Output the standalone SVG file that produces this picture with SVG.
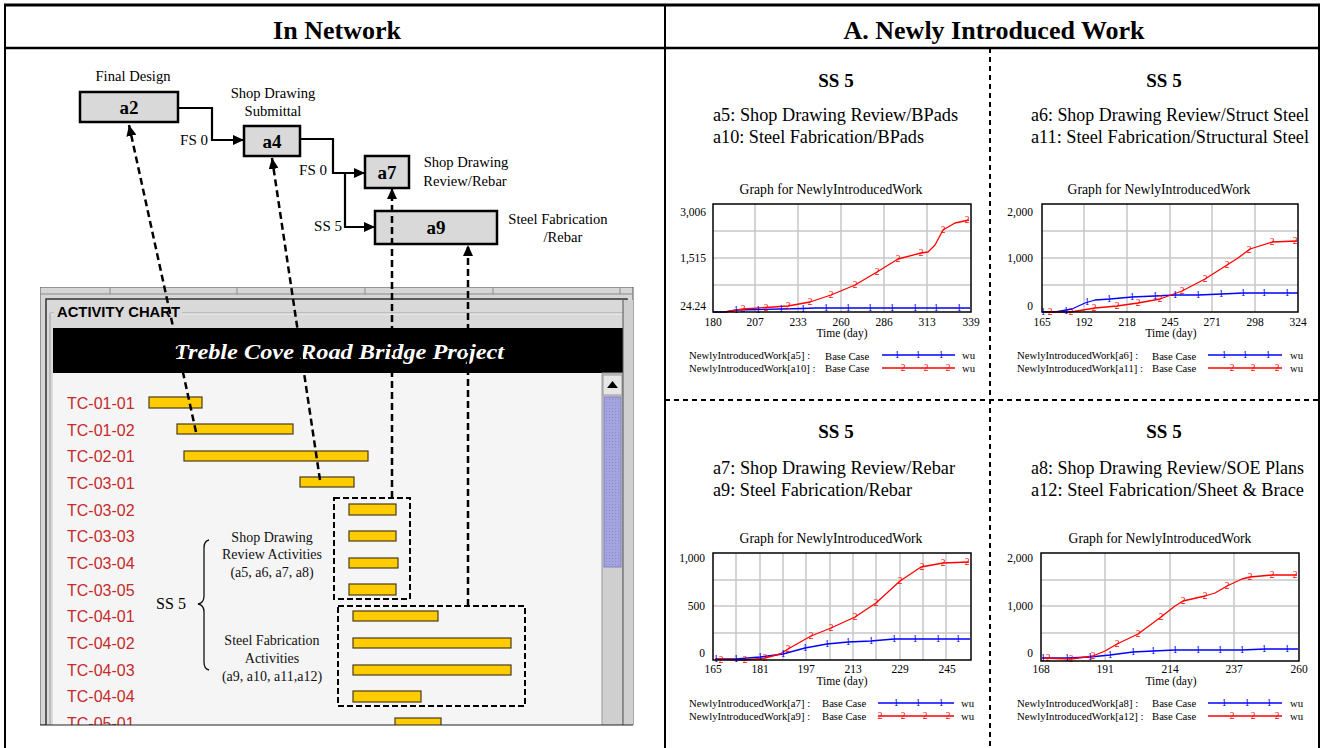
<svg xmlns="http://www.w3.org/2000/svg" xmlns:xlink="http://www.w3.org/1999/xlink" width="1322" height="748" viewBox="0 0 1322 748">
<style>
.serif{font-family:"Liberation Serif","Times New Roman",serif;}
.sans{font-family:"Liberation Sans",Arial,sans-serif;}
.hdr{font-family:"Liberation Serif",serif;font-size:26px;font-weight:bold;text-anchor:middle;}
.ss{font-family:"Liberation Serif",serif;font-size:19px;font-weight:bold;text-anchor:middle;}
.desc{font-family:"Liberation Serif",serif;font-size:18px;}
.lbl{font-family:"Liberation Serif",serif;font-size:14.6px;text-anchor:middle;}
.lag{font-family:"Liberation Serif",serif;font-size:15px;text-anchor:end;}
.node rect{fill:#d9d9d9;stroke:#000;stroke-width:2.5;}
.node .id{font-family:"Liberation Serif",serif;font-size:19px;font-weight:bold;text-anchor:middle;}
.conn{fill:none;stroke:#000;stroke-width:2.2;}
.dash{fill:none;stroke:#000;stroke-width:2.5;stroke-dasharray:7 4;}
.dbox{fill:none;stroke:#000;stroke-width:2;stroke-dasharray:6 3;}
.sep{fill:none;stroke:#000;stroke-width:2;stroke-dasharray:5 4;}
.tbl{fill:none;stroke:#000;}
.row{font-family:"Liberation Sans",Arial,sans-serif;font-size:16px;fill:#c62a2a;}
.bar{fill:#ffcc00;stroke:#4a3b1c;stroke-width:1.2;}
.ann{font-family:"Liberation Serif",serif;font-size:14px;text-anchor:middle;fill:#111;}
.gt{font-family:"Liberation Serif",serif;font-size:13.7px;text-anchor:middle;}
.ax{font-family:"Liberation Serif",serif;font-size:11.5px;text-anchor:middle;}
.ay{font-family:"Liberation Serif",serif;font-size:11.5px;text-anchor:end;}
.lg{font-family:"Liberation Serif",serif;font-size:10.7px;}
.grid{fill:none;stroke:#c8c8c8;stroke-width:1.5;}
.frame{fill:none;stroke:#000;stroke-width:1.5;}
.blue{fill:none;stroke:#0000ff;stroke-width:1.3;stroke-linejoin:round;}
.red{fill:none;stroke:#ff0000;stroke-width:1.3;stroke-linejoin:round;}
.mk{font-family:"Liberation Serif",serif;font-size:9.5px;text-anchor:middle;}
</style>
<defs>
<marker id="arr" viewBox="0 0 11 10" refX="11" refY="5" markerWidth="11" markerHeight="10" markerUnits="userSpaceOnUse" orient="auto"><path d="M0,0 L11,5 L0,10 z" fill="#000"/></marker>
<text id="k1" class="mk" fill="#0000ff" y="3">1</text>
<text id="k2" class="mk" fill="#ff0000" y="3">2</text>
<clipPath id="chartclip"><rect x="40" y="287" width="594" height="438"/></clipPath>
<pattern id="dots" width="3" height="3" patternUnits="userSpaceOnUse"><rect width="3" height="3" fill="#a4a4e0"/><rect width="1" height="1" fill="#8c8cc8"/></pattern>
</defs>

<rect width="1322" height="748" fill="#fff"/>

<!-- table -->
<g id="table">
<path class="tbl" stroke-width="3" d="M4,5 H1320"/>
<path class="tbl" stroke-width="2.5" d="M4,48 H1320"/>
<path class="tbl" stroke-width="2" d="M5,5 V748 M665,5 V748 M1319,5 V748"/>
<text class="hdr" x="337" y="39">In Network</text>
<text class="hdr" x="994" y="39">A. Newly Introduced Work</text>
</g>

<!-- activity chart screenshot -->
<g id="activity-chart" clip-path="url(#chartclip)">
<rect x="40" y="287" width="593" height="438" fill="#d6d6d6" stroke="#555" stroke-width="1"/>
<path d="M41,294 H632" stroke="#8a8a8a" stroke-width="1"/>
<path d="M110,287 V294 M237,287 V294 M365,287 V294 M493,287 V294 M620,287 V294" stroke="#8a8a8a" stroke-width="1"/>
<rect x="46" y="299" width="581" height="430" fill="#d9d9d9" stroke="#333" stroke-width="1.5"/>
<path d="M50,313 H624" stroke="#a0a0a0" stroke-width="1"/>
<path d="M50,314 H624" stroke="#f2f2f2" stroke-width="1"/>
<path d="M50,313 V729" stroke="#a0a0a0" stroke-width="1"/>
<rect x="54" y="303" width="128" height="18" fill="#d9d9d9"/>
<text class="sans" x="57" y="317" font-size="14" font-weight="bold" textLength="123" lengthAdjust="spacingAndGlyphs">ACTIVITY CHART</text>
<rect x="53" y="328" width="570" height="45" fill="#000"/>
<text x="339" y="359" fill="#fff" font-family="Liberation Serif,serif" font-size="21" font-weight="bold" font-style="italic" text-anchor="middle" textLength="330" lengthAdjust="spacingAndGlyphs">Treble Cove Road Bridge Project</text>
<rect x="53" y="373" width="549" height="356" fill="#f5f5f5"/>
<rect x="602" y="373" width="21" height="356" fill="#cfcfcf" stroke="#9a9a9a" stroke-width="1"/>
<rect x="603" y="375" width="19" height="20" fill="#e6e6e6" stroke="#9a9a9a" stroke-width="1"/>
<path d="M607,388 L612.5,381 L618,388 z" fill="#000"/>
<rect x="604" y="397" width="17" height="170" fill="url(#dots)" stroke="#8080c0" stroke-width="1"/>
<rect x="623" y="300" width="10" height="429" fill="#cfcfcf"/>
<path d="M623,300 V729" stroke="#555" stroke-width="1"/>

<text class="row" x="67" y="409">TC-01-01</text>
<text class="row" x="67" y="436">TC-01-02</text>
<text class="row" x="67" y="462">TC-02-01</text>
<text class="row" x="67" y="489">TC-03-01</text>
<text class="row" x="67" y="516">TC-03-02</text>
<text class="row" x="67" y="542">TC-03-03</text>
<text class="row" x="67" y="569">TC-03-04</text>
<text class="row" x="67" y="596">TC-03-05</text>
<text class="row" x="67" y="622">TC-04-01</text>
<text class="row" x="67" y="649">TC-04-02</text>
<text class="row" x="67" y="676">TC-04-03</text>
<text class="row" x="67" y="702">TC-04-04</text>
<text class="row" x="67" y="729">TC-05-01</text>

<rect class="bar" x="149" y="397" width="53" height="11"/>
<rect class="bar" x="177" y="424" width="116" height="10"/>
<rect class="bar" x="184" y="451" width="184" height="10"/>
<rect class="bar" x="300" y="477" width="54" height="10"/>
<rect class="bar" x="349" y="504" width="47" height="11"/>
<rect class="bar" x="349" y="531" width="47" height="10"/>
<rect class="bar" x="349" y="558" width="49" height="10"/>
<rect class="bar" x="349" y="584" width="47" height="11"/>
<rect class="bar" x="353" y="611" width="85" height="10"/>
<rect class="bar" x="353" y="638" width="158" height="10"/>
<rect class="bar" x="353" y="665" width="158" height="10"/>
<rect class="bar" x="353" y="691" width="68" height="11"/>
<rect class="bar" x="395" y="718" width="46" height="12"/>
</g>
<path d="M40,725 H633" stroke="#222" stroke-width="1.2"/>

<!-- annotations inside chart -->
<g id="brace-annotation">
<text class="ann" x="272" y="542">Shop Drawing</text>
<text class="ann" x="272" y="559">Review Activities</text>
<text class="ann" x="272" y="577">(a5, a6, a7, a8)</text>
<text class="ann" x="272" y="645">Steel Fabrication</text>
<text class="ann" x="272" y="663">Activities</text>
<text class="ann" x="272" y="681">(a9, a10, a11,a12)</text>
<text class="serif" x="171" y="609" font-size="16" text-anchor="middle">SS 5</text>
<path d="M209,540 Q204,541 204,548 L204,596 Q204,603 198,604 Q204,605 204,612 L204,662 Q204,669 209,670" fill="none" stroke="#111" stroke-width="1.3"/>
<rect class="dbox" x="334" y="498" width="76" height="101"/>
<rect class="dbox" x="338" y="606" width="187" height="100"/>
</g>

<!-- nodes -->
<g id="node-a2" class="node">
<text class="lbl" x="133" y="81">Final Design</text>
<rect x="80" y="92" width="98" height="30"/>
<text class="id" x="129" y="114">a2</text>
</g>
<g id="node-a4" class="node">
<text class="lbl" x="273" y="98">Shop Drawing</text>
<text class="lbl" x="273" y="116">Submittal</text>
<rect x="244" y="126" width="56" height="30"/>
<text class="id" x="272" y="148">a4</text>
</g>
<g id="node-a7" class="node">
<rect x="365" y="156" width="44" height="32"/>
<text class="id" x="387" y="179">a7</text>
<text class="lbl" x="466" y="167">Shop Drawing</text>
<text class="lbl" x="465" y="186">Review/Rebar</text>
</g>
<g id="node-a9" class="node">
<rect x="375" y="211" width="122" height="33"/>
<text class="id" x="436" y="234">a9</text>
<text class="lbl" x="558" y="224">Steel Fabrication</text>
<text class="lbl" x="563" y="242">/Rebar</text>
</g>

<!-- connectors -->
<g id="connectors">
<path class="conn" d="M178,108 H212 V140 H244" marker-end="url(#arr)"/>
<path class="conn" d="M300,139 H333 V173 H365" marker-end="url(#arr)"/>
<path class="conn" d="M345,173 V227 H375" marker-end="url(#arr)"/>
<text class="lag" x="208" y="145">FS 0</text>
<text class="lag" x="327" y="175">FS 0</text>
<text class="lag" x="342" y="231">SS 5</text>
<path class="dash" d="M196,432 L129,125" marker-end="url(#arr)"/>
<path class="dash" d="M320,480 L272,158" marker-end="url(#arr)"/>
<path class="dash" d="M392,498 V188" marker-end="url(#arr)"/>
<path class="dash" d="M468,606 V245" marker-end="url(#arr)"/>
</g>

<!-- right panel separators -->
<g id="separators">
<path class="sep" d="M990,48 V748"/>
<path class="sep" d="M665,400 H1320"/>
</g>

<!-- Quadrant 1 -->
<g id="q-a5-a10">
<text class="ss" x="836" y="87">SS 5</text>
<text class="desc" x="713" y="121" textLength="245" lengthAdjust="spacingAndGlyphs">a5: Shop Drawing Review/BPads</text>
<text class="desc" x="713" y="143" textLength="211" lengthAdjust="spacingAndGlyphs">a10: Steel Fabrication/BPads</text>
<text class="gt" x="831" y="194">Graph for NewlyIntroducedWork</text>
<path class="grid" d="M755,204V312 M798,204V312 M841,204V312 M884,204V312 M927,204V312 M713,231H971 M713,258H971 M713,285H971"/>
<path class="blue" d="M713,312 L725,312 L736,310 L758,309.5 L781,309 L803,308.5 L815,308 L970,308"/>
<path class="red" d="M725,312 L743,309 L766,307.5 L788,306 L810,302 L831,295 L855,285 L877,272 L898,259 L921,253 L928,252 L935,245 L943,230 L955,223 L969,220"/>
<use href="#k1" x="736" y="310"/><use href="#k1" x="758" y="309.5"/><use href="#k1" x="781" y="309"/><use href="#k1" x="803" y="308.5"/><use href="#k1" x="826" y="308"/><use href="#k1" x="848" y="308"/><use href="#k1" x="870" y="308"/><use href="#k1" x="892" y="308"/><use href="#k1" x="915" y="308"/><use href="#k1" x="936" y="308"/><use href="#k1" x="959" y="308"/>
<use href="#k2" x="743" y="309"/><use href="#k2" x="766" y="307.5"/><use href="#k2" x="788" y="306"/><use href="#k2" x="810" y="302"/><use href="#k2" x="831" y="295"/><use href="#k2" x="855" y="285"/><use href="#k2" x="877" y="272"/><use href="#k2" x="898" y="259"/><use href="#k2" x="921" y="253"/><use href="#k2" x="943" y="230"/><use href="#k2" x="967" y="220"/>
<rect class="frame" x="713" y="204" width="258" height="108"/>
<text class="ay" x="706" y="216">3,006</text>
<text class="ay" x="706" y="262">1,515</text>
<text class="ay" x="706" y="310">24.24</text>
<text class="ax" x="713" y="326">180</text><text class="ax" x="755" y="326">207</text><text class="ax" x="798" y="326">233</text><text class="ax" x="841" y="326">260</text><text class="ax" x="884" y="326">286</text><text class="ax" x="927" y="326">313</text><text class="ax" x="971" y="326">339</text>
<text class="ax" x="842" y="337" font-size="11">Time (day)</text>
<text class="lg" x="689" y="359">NewlyIntroducedWork[a5] :</text>
<text class="lg" x="825" y="360">Base Case</text>
<path class="blue" d="M882,355 H955"/>
<use href="#k1" x="897" y="355"/><use href="#k1" x="918" y="355"/><use href="#k1" x="941" y="355"/>
<text class="lg" x="962" y="359">wu</text>
<text class="lg" x="689" y="372">NewlyIntroducedWork[a10] :</text>
<text class="lg" x="825" y="372">Base Case</text>
<path class="red" d="M882,368 H955"/>
<use href="#k2" x="903" y="368"/><use href="#k2" x="926" y="368"/><use href="#k2" x="948" y="368"/>
<text class="lg" x="962" y="372">wu</text>
</g>

<!-- Quadrant 2 -->
<g id="q-a6-a11">
<text class="ss" x="1164" y="87">SS 5</text>
<text class="desc" x="1031" y="121" textLength="278" lengthAdjust="spacingAndGlyphs">a6: Shop Drawing Review/Struct Steel</text>
<text class="desc" x="1031" y="143" textLength="278" lengthAdjust="spacingAndGlyphs">a11: Steel Fabrication/Structural Steel</text>
<text class="gt" x="1159" y="194">Graph for NewlyIntroducedWork</text>
<path class="grid" d="M1084,204V312 M1127,204V312 M1170,204V312 M1212,204V312 M1255,204V312 M1042,231H1298 M1042,258H1298 M1042,285H1298"/>
<path class="blue" d="M1042,312 L1055,312 L1072,309 L1085,303 L1095,300 L1110,299 L1132,297 L1155,296 L1175,295 L1198,295 L1222,294 L1243,293 L1298,293"/>
<path class="red" d="M1042,312 L1071,312 L1095,308 L1117,306 L1138,303 L1160,299 L1182,291 L1205,279 L1227,265 L1238,258 L1250,249 L1272,242 L1297,241"/>
<use href="#k1" x="1043" y="312"/><use href="#k1" x="1066" y="310.5"/><use href="#k1" x="1087" y="302"/><use href="#k1" x="1109" y="299"/><use href="#k1" x="1132" y="297"/><use href="#k1" x="1155" y="296"/><use href="#k1" x="1175" y="295"/><use href="#k1" x="1198" y="295"/><use href="#k1" x="1221" y="294"/><use href="#k1" x="1243" y="293"/><use href="#k1" x="1264" y="293"/><use href="#k1" x="1287" y="293"/>
<use href="#k2" x="1050" y="312"/><use href="#k2" x="1071" y="312"/><use href="#k2" x="1094" y="308"/><use href="#k2" x="1117" y="306"/><use href="#k2" x="1138" y="303"/><use href="#k2" x="1160" y="299"/><use href="#k2" x="1182" y="291"/><use href="#k2" x="1205" y="279"/><use href="#k2" x="1227" y="265"/><use href="#k2" x="1249" y="250"/><use href="#k2" x="1272" y="242"/><use href="#k2" x="1295" y="241"/>
<rect class="frame" x="1042" y="204" width="256" height="108"/>
<text class="ay" x="1033" y="216">2,000</text>
<text class="ay" x="1033" y="262">1,000</text>
<text class="ay" x="1033" y="310">0</text>
<text class="ax" x="1042" y="326">165</text><text class="ax" x="1084" y="326">192</text><text class="ax" x="1127" y="326">218</text><text class="ax" x="1170" y="326">245</text><text class="ax" x="1212" y="326">271</text><text class="ax" x="1255" y="326">298</text><text class="ax" x="1298" y="326">324</text>
<text class="ax" x="1171" y="337" font-size="11">Time (day)</text>
<text class="lg" x="1017" y="359">NewlyIntroducedWork[a6] :</text>
<text class="lg" x="1152" y="360">Base Case</text>
<path class="blue" d="M1208,355 H1282"/>
<use href="#k1" x="1224" y="355"/><use href="#k1" x="1245" y="355"/><use href="#k1" x="1268" y="355"/>
<text class="lg" x="1290" y="359">wu</text>
<text class="lg" x="1017" y="372">NewlyIntroducedWork[a11] :</text>
<text class="lg" x="1152" y="372">Base Case</text>
<path class="red" d="M1208,368 H1282"/>
<use href="#k2" x="1232" y="368"/><use href="#k2" x="1253" y="368"/><use href="#k2" x="1277" y="368"/>
<text class="lg" x="1290" y="372">wu</text>
</g>

<!-- Quadrant 3 -->
<g id="q-a7-a9">
<text class="ss" x="836" y="438">SS 5</text>
<text class="desc" x="713" y="474" textLength="242" lengthAdjust="spacingAndGlyphs">a7: Shop Drawing Review/Rebar</text>
<text class="desc" x="713" y="496" textLength="199" lengthAdjust="spacingAndGlyphs">a9: Steel Fabrication/Rebar</text>
<text class="gt" x="831" y="543">Graph for NewlyIntroducedWork</text>
<path class="grid" d="M736,553V660 M760,553V660 M783,553V660 M806,553V660 M830,553V660 M853,553V660 M876,553V660 M900,553V660 M923,553V660 M946,553V660 M713,580H971 M713,606H971 M713,633H971"/>
<path class="blue" d="M715,659 L736,659 L760,657 L783,654 L805,648 L827,644 L848,642 L871,641 L894,639 L915,639 L970,639"/>
<path class="red" d="M715,659 L745,660 L765,658 L780,654 L788,649 L811,636 L831,628 L855,617 L876,603 L888,592 L900,581 L915,571 L921,567 L943,563 L969,562"/>
<use href="#k1" x="716" y="659"/><use href="#k1" x="736" y="659"/><use href="#k1" x="760" y="657"/><use href="#k1" x="783" y="654"/><use href="#k1" x="805" y="648"/><use href="#k1" x="827" y="644"/><use href="#k1" x="848" y="642"/><use href="#k1" x="871" y="641"/><use href="#k1" x="894" y="639"/><use href="#k1" x="915" y="639"/><use href="#k1" x="938" y="639"/><use href="#k1" x="958" y="639"/>
<use href="#k2" x="721" y="660"/><use href="#k2" x="745" y="660"/><use href="#k2" x="765" y="658"/><use href="#k2" x="788" y="649"/><use href="#k2" x="811" y="636"/><use href="#k2" x="831" y="628"/><use href="#k2" x="855" y="617"/><use href="#k2" x="876" y="603"/><use href="#k2" x="900" y="581"/><use href="#k2" x="922" y="567"/><use href="#k2" x="943" y="563"/><use href="#k2" x="967" y="562"/>
<rect class="frame" x="713" y="553" width="258" height="107"/>
<text class="ay" x="705" y="562">1,000</text>
<text class="ay" x="705" y="610">500</text>
<text class="ay" x="705" y="657">0</text>
<text class="ax" x="713" y="673">165</text><text class="ax" x="760" y="673">181</text><text class="ax" x="806" y="673">197</text><text class="ax" x="853" y="673">213</text><text class="ax" x="900" y="673">229</text><text class="ax" x="947" y="673">245</text>
<text class="ax" x="842" y="685" font-size="11">Time (day)</text>
<text class="lg" x="689" y="707">NewlyIntroducedWork[a7] :</text>
<text class="lg" x="822" y="707">Base Case</text>
<path class="blue" d="M878,703 H954"/>
<use href="#k1" x="896" y="703"/><use href="#k1" x="918" y="703"/><use href="#k1" x="941" y="703"/>
<text class="lg" x="961" y="707">wu</text>
<text class="lg" x="689" y="720">NewlyIntroducedWork[a9] :</text>
<text class="lg" x="822" y="720">Base Case</text>
<path class="red" d="M878,716 H954"/>
<use href="#k2" x="880" y="716"/><use href="#k2" x="903" y="716"/><use href="#k2" x="925" y="716"/><use href="#k2" x="948" y="716"/>
<text class="lg" x="961" y="720">wu</text>
</g>

<!-- Quadrant 4 -->
<g id="q-a8-a12">
<text class="ss" x="1164" y="438">SS 5</text>
<text class="desc" x="1031" y="474" textLength="273" lengthAdjust="spacingAndGlyphs">a8: Shop Drawing Review/SOE Plans</text>
<text class="desc" x="1031" y="496" textLength="273" lengthAdjust="spacingAndGlyphs">a12: Steel Fabrication/Sheet &amp; Brace</text>
<text class="gt" x="1160" y="543">Graph for NewlyIntroducedWork</text>
<path class="grid" d="M1105,553V661 M1170,553V661 M1234,553V661 M1041,580H1299 M1041,606H1299 M1041,633H1299"/>
<path class="blue" d="M1042,658 L1067,658 L1090,657 L1110,655 L1133,652 L1153,651 L1175,650 L1242,650 L1265,649 L1298,649"/>
<path class="red" d="M1042,658 L1071,659 L1093,656 L1105,651 L1117,644 L1138,634 L1161,617 L1175,606 L1183,601 L1205,596 L1215,593 L1227,586 L1242,579 L1250,577 L1272,575 L1297,575"/>
<use href="#k1" x="1043" y="658"/><use href="#k1" x="1067" y="658"/><use href="#k1" x="1090" y="657"/><use href="#k1" x="1110" y="655"/><use href="#k1" x="1133" y="652"/><use href="#k1" x="1153" y="651"/><use href="#k1" x="1175" y="650"/><use href="#k1" x="1198" y="650"/><use href="#k1" x="1220" y="650"/><use href="#k1" x="1242" y="650"/><use href="#k1" x="1264" y="649"/><use href="#k1" x="1287" y="649"/>
<use href="#k2" x="1048" y="658"/><use href="#k2" x="1071" y="659"/><use href="#k2" x="1093" y="656"/><use href="#k2" x="1117" y="644"/><use href="#k2" x="1138" y="634"/><use href="#k2" x="1161" y="617"/><use href="#k2" x="1183" y="601"/><use href="#k2" x="1205" y="596"/><use href="#k2" x="1227" y="586"/><use href="#k2" x="1250" y="577"/><use href="#k2" x="1272" y="575"/><use href="#k2" x="1295" y="575"/>
<rect class="frame" x="1041" y="553" width="258" height="108"/>
<text class="ay" x="1033" y="562">2,000</text>
<text class="ay" x="1033" y="610">1,000</text>
<text class="ay" x="1033" y="657">0</text>
<text class="ax" x="1041" y="673">168</text><text class="ax" x="1105" y="673">191</text><text class="ax" x="1170" y="673">214</text><text class="ax" x="1234" y="673">237</text><text class="ax" x="1299" y="673">260</text>
<text class="ax" x="1171" y="685" font-size="11">Time (day)</text>
<text class="lg" x="1017" y="707">NewlyIntroducedWork[a8] :</text>
<text class="lg" x="1152" y="707">Base Case</text>
<path class="blue" d="M1208,703 H1282"/>
<use href="#k1" x="1224" y="703"/><use href="#k1" x="1247" y="703"/><use href="#k1" x="1269" y="703"/>
<text class="lg" x="1290" y="707">wu</text>
<text class="lg" x="1017" y="720">NewlyIntroducedWork[a12] :</text>
<text class="lg" x="1152" y="720">Base Case</text>
<path class="red" d="M1208,716 H1282"/>
<use href="#k2" x="1232" y="716"/><use href="#k2" x="1253" y="716"/><use href="#k2" x="1277" y="716"/>
<text class="lg" x="1290" y="720">wu</text>
</g>
</svg>
